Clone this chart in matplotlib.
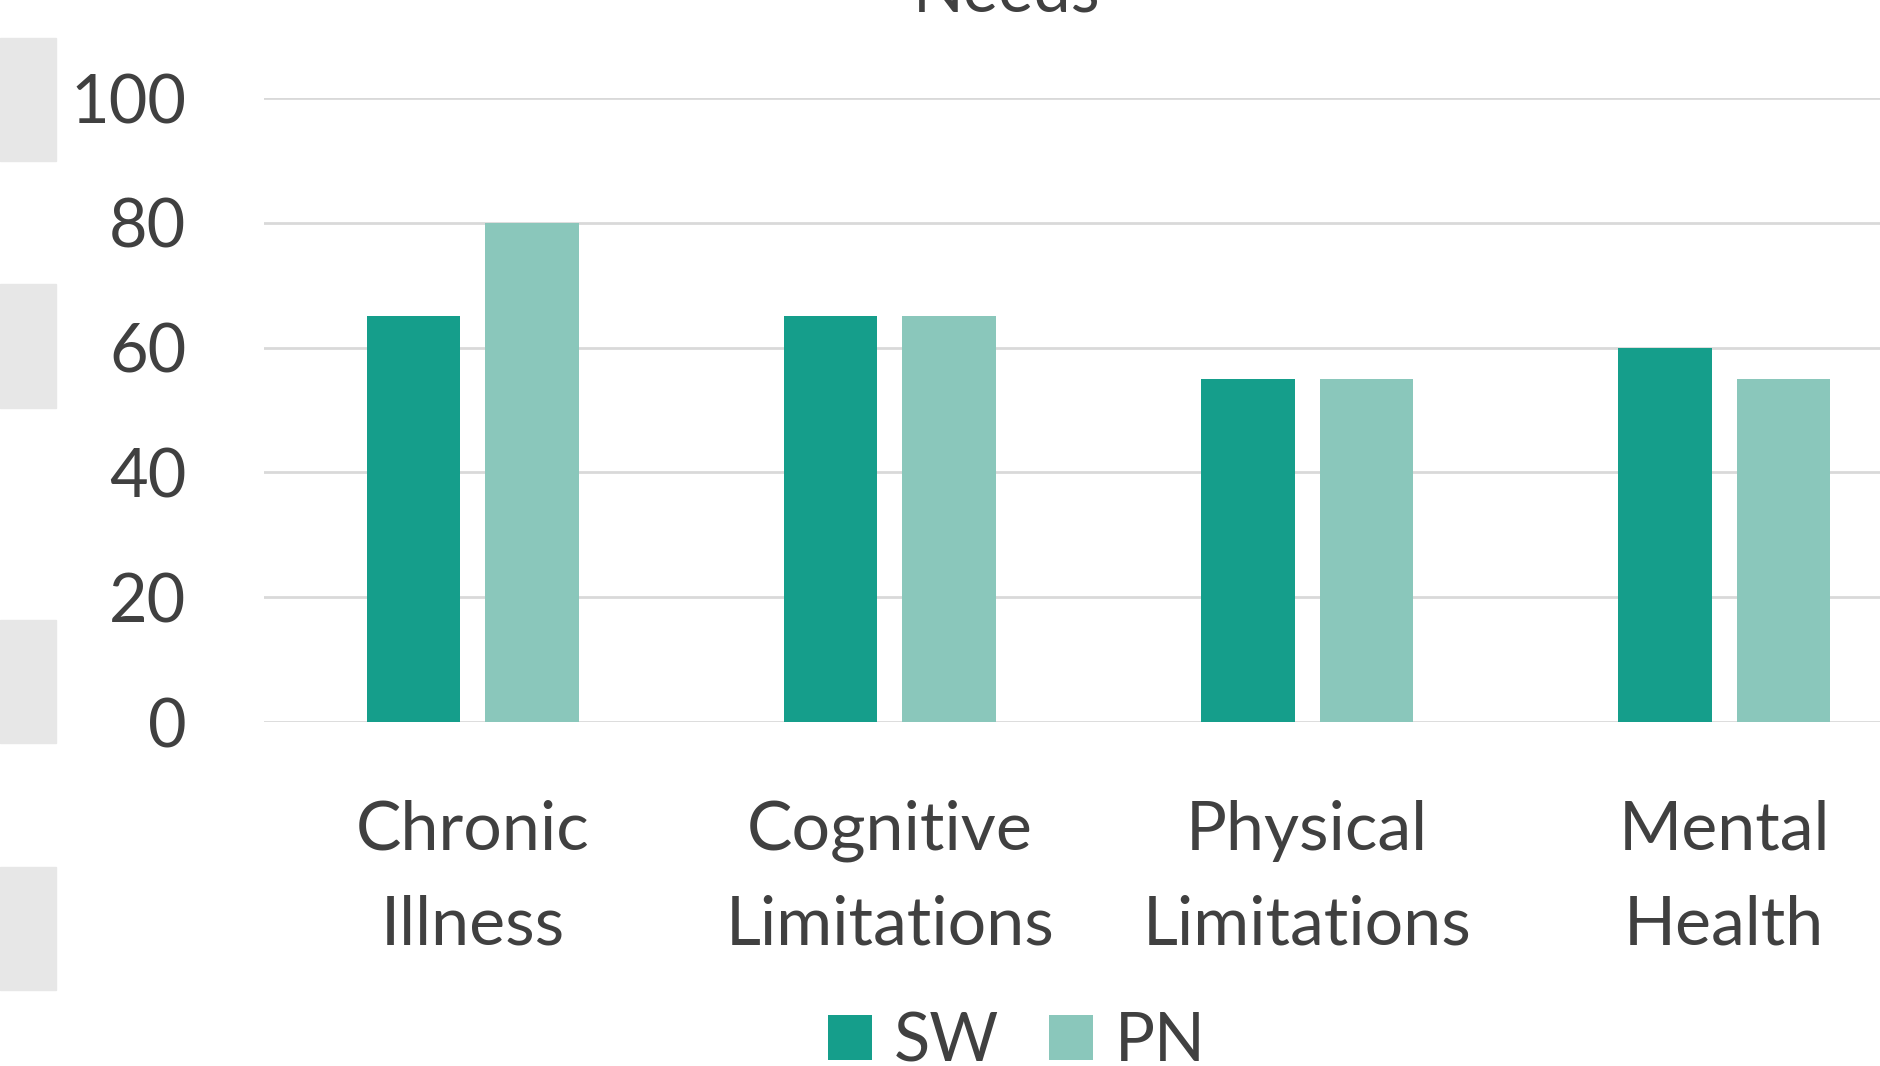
import matplotlib
matplotlib.use('Agg')
import matplotlib.pyplot as plt
import matplotlib.patches as patches
import numpy as np

# Chart data
categories = ['Chronic\nIllness', 'Cognitive\nLimitations', 'Physical\nLimitations', 'Mental\nHealth']
sw_values = [65, 65, 55, 60]
pn_values = [80, 65, 55, 55]
series_names = ['SW', 'PN']
y_ticks = [0, 20, 40, 60, 80, 100]

sw_color = '#159E8B'
pn_color = '#8AC7BB'
text_color = '#404040'
grid_color = '#D9D9D9'

plt.rcParams['font.family'] = ['Lato', 'DejaVu Sans']

W, H = 1880, 1066
fig = plt.figure(figsize=(W / 100, H / 100), dpi=100)

# axes placed in pixels; right side runs off the canvas like the reference
left, right = 264, 1933
bottom, top = 1066 - 722, 1066 - 98
ax = fig.add_axes([left / W, bottom / H, (right - left) / W, (top - bottom) / H])
ax.set_xlim(-0.5, 3.5)
ax.set_ylim(0, 100)

x = np.arange(len(categories))
bw = 0.224
off = 0.142
ax.bar(x - off, sw_values, bw, color=sw_color, label=series_names[0], zorder=3)
ax.bar(x + off, pn_values, bw, color=pn_color, label=series_names[1], zorder=3)

ax.set_yticks(y_ticks)
ax.set_yticklabels([str(v) for v in y_ticks])
ax.set_xticks(x)
ax.set_xticklabels(categories, linespacing=1.65)
ax.yaxis.grid(True, color=grid_color, linewidth=2, zorder=0)
ax.set_axisbelow(True)
ax.tick_params(axis='y', length=0, pad=56, labelsize=48, labelcolor=text_color)
ax.tick_params(axis='x', length=0, pad=56, labelsize=49, labelcolor=text_color)
for s in ax.spines.values():
    s.set_visible(False)

# title, mostly cut off at the top
fig.text(1007 / W, 1 - 12 / H, 'Needs', ha='center', va='baseline',
         fontsize=48, color=text_color)

# gray blocks along the left edge
for y0, y1 in [(38, 161), (284, 408), (620, 743), (867, 990)]:
    fig.patches.append(patches.Rectangle((0, 1 - y1 / H), 56 / W, (y1 - y0) / H,
                                         transform=fig.transFigure, color='#E7E7E7',
                                         zorder=0))

leg = fig.legend(loc='center', bbox_to_anchor=(1017 / W, 1 - 1042 / H), ncol=2,
                 frameon=False, fontsize=48, handlelength=0.66, handleheight=0.66,
                 handletextpad=0.33, columnspacing=0.75, borderpad=0)
for t in leg.get_texts():
    t.set_color(text_color)

fig.savefig('out.png', dpi=100)
